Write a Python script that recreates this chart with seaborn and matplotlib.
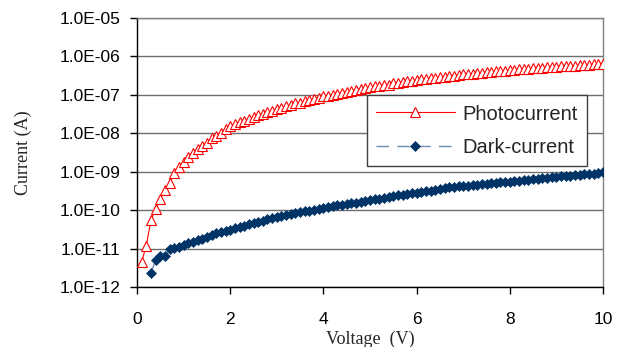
import matplotlib
matplotlib.use("Agg")
import matplotlib.pyplot as plt
import matplotlib.ticker as mticker
import seaborn as sns
import pandas as pd

# ---------------- data ----------------
photo_voltage = [0.1, 0.2, 0.3, 0.4, 0.5, 0.6, 0.7, 0.8, 0.9, 1.0,
                 1.1, 1.2, 1.3, 1.4, 1.5, 1.6, 1.7, 1.8, 1.9, 2.0,
                 2.1, 2.2, 2.3, 2.4, 2.5, 2.6, 2.7, 2.8, 2.9, 3.0,
                 3.1, 3.2, 3.3, 3.4, 3.5, 3.6, 3.7, 3.8, 3.9, 4.0,
                 4.1, 4.2, 4.3, 4.4, 4.5, 4.6, 4.7, 4.8, 4.9, 5.0,
                 5.1, 5.2, 5.3, 5.4, 5.5, 5.6, 5.7, 5.8, 5.9, 6.0,
                 6.1, 6.2, 6.3, 6.4, 6.5, 6.6, 6.7, 6.8, 6.9, 7.0,
                 7.1, 7.2, 7.3, 7.4, 7.5, 7.6, 7.7, 7.8, 7.9, 8.0,
                 8.1, 8.2, 8.3, 8.4, 8.5, 8.6, 8.7, 8.8, 8.9, 9.0,
                 9.1, 9.2, 9.3, 9.4, 9.5, 9.6, 9.7, 9.8, 9.9, 10.0]
photocurrent = [4.57e-12, 1.20e-11, 5.50e-11, 1.10e-10, 2.00e-10, 3.39e-10, 5.01e-10, 9.33e-10, 1.35e-9, 1.82e-9,
                2.45e-9, 3.16e-9, 3.89e-9, 4.68e-9, 5.75e-9, 7.41e-9, 8.71e-9, 1.02e-8, 1.32e-8, 1.58e-8,
                1.74e-8, 1.95e-8, 2.09e-8, 2.40e-8, 2.63e-8, 2.95e-8, 3.16e-8, 3.55e-8, 3.72e-8, 4.17e-8,
                4.57e-8, 5.01e-8, 5.37e-8, 6.03e-8, 6.31e-8, 6.92e-8, 7.24e-8, 7.94e-8, 8.32e-8, 9.12e-8,
                9.55e-8, 1.02e-7, 1.07e-7, 1.15e-7, 1.20e-7, 1.29e-7, 1.35e-7, 1.45e-7, 1.48e-7, 1.58e-7,
                1.66e-7, 1.74e-7, 1.82e-7, 1.86e-7, 2.00e-7, 2.04e-7, 2.19e-7, 2.24e-7, 2.34e-7, 2.40e-7,
                2.51e-7, 2.57e-7, 2.69e-7, 2.75e-7, 2.88e-7, 2.95e-7, 3.09e-7, 3.16e-7, 3.24e-7, 3.39e-7,
                3.47e-7, 3.55e-7, 3.63e-7, 3.80e-7, 3.89e-7, 3.98e-7, 4.07e-7, 4.17e-7, 4.27e-7, 4.37e-7,
                4.47e-7, 4.57e-7, 4.68e-7, 4.79e-7, 4.90e-7, 5.01e-7, 5.13e-7, 5.25e-7, 5.25e-7, 5.37e-7,
                5.50e-7, 5.62e-7, 5.75e-7, 5.75e-7, 5.89e-7, 6.03e-7, 6.03e-7, 6.17e-7, 6.17e-7, 6.46e-7]

dark_voltage = [0.3, 0.4, 0.5, 0.6, 0.7, 0.8, 0.9, 1.0,
                1.1, 1.2, 1.3, 1.4, 1.5, 1.6, 1.7, 1.8, 1.9, 2.0,
                2.1, 2.2, 2.3, 2.4, 2.5, 2.6, 2.7, 2.8, 2.9, 3.0,
                3.1, 3.2, 3.3, 3.4, 3.5, 3.6, 3.7, 3.8, 3.9, 4.0,
                4.1, 4.2, 4.3, 4.4, 4.5, 4.6, 4.7, 4.8, 4.9, 5.0,
                5.1, 5.2, 5.3, 5.4, 5.5, 5.6, 5.7, 5.8, 5.9, 6.0,
                6.1, 6.2, 6.3, 6.4, 6.5, 6.6, 6.7, 6.8, 6.9, 7.0,
                7.1, 7.2, 7.3, 7.4, 7.5, 7.6, 7.7, 7.8, 7.9, 8.0,
                8.1, 8.2, 8.3, 8.4, 8.5, 8.6, 8.7, 8.8, 8.9, 9.0,
                9.1, 9.2, 9.3, 9.4, 9.5, 9.6, 9.7, 9.8, 9.9, 10.0]
dark_current = [2.34e-12, 5.01e-12, 6.46e-12, 6.31e-12, 9.55e-12, 1.05e-11, 1.12e-11, 1.23e-11,
                1.38e-11, 1.51e-11, 1.66e-11, 1.82e-11, 2.04e-11, 2.29e-11, 2.51e-11, 2.69e-11, 2.88e-11, 3.09e-11,
                3.39e-11, 3.72e-11, 3.98e-11, 4.27e-11, 4.68e-11, 5.01e-11, 5.37e-11, 5.75e-11, 6.17e-11, 6.61e-11,
                7.08e-11, 7.41e-11, 7.94e-11, 8.32e-11, 8.91e-11, 9.33e-11, 9.77e-11, 1.02e-10, 1.10e-10, 1.15e-10,
                1.23e-10, 1.29e-10, 1.35e-10, 1.38e-10, 1.45e-10, 1.51e-10, 1.58e-10, 1.66e-10, 1.74e-10, 1.82e-10,
                1.91e-10, 2.00e-10, 2.09e-10, 2.19e-10, 2.34e-10, 2.45e-10, 2.51e-10, 2.63e-10, 2.75e-10, 2.82e-10,
                2.95e-10, 3.09e-10, 3.24e-10, 3.39e-10, 3.55e-10, 3.72e-10, 3.89e-10, 3.98e-10, 4.17e-10, 4.27e-10,
                4.37e-10, 4.47e-10, 4.57e-10, 4.68e-10, 4.79e-10, 5.01e-10, 5.13e-10, 5.25e-10, 5.37e-10, 5.50e-10,
                5.62e-10, 5.75e-10, 6.03e-10, 6.17e-10, 6.31e-10, 6.46e-10, 6.76e-10, 6.92e-10, 7.08e-10, 7.24e-10,
                7.59e-10, 7.76e-10, 7.94e-10, 8.13e-10, 8.32e-10, 8.51e-10, 8.71e-10, 8.91e-10, 9.33e-10, 9.55e-10]

series_labels = ["Photocurrent", "Dark-current"]
x_ticks = [0, 2, 4, 6, 8, 10]
y_ticks = [1e-12, 1e-11, 1e-10, 1e-9, 1e-8, 1e-7, 1e-6, 1e-5]
x_label = "Voltage  (V)"
y_label = "Current (A)"

# ---------------- figure ----------------
sns.set_theme(style="white")
plt.rcParams["font.family"] = ["Liberation Sans", "DejaVu Sans"]

fig = plt.figure(figsize=(6.21, 3.47), dpi=100)
ax = fig.add_axes([137 / 621, 60 / 347, 466 / 621, 269 / 347])

photo_df = pd.DataFrame({"V": photo_voltage, "I": photocurrent})
dark_df = pd.DataFrame({"V": dark_voltage, "I": dark_current})

sns.lineplot(data=photo_df, x="V", y="I", ax=ax, color="#ff0000", linewidth=0.8,
             marker="^", markersize=6.5, markerfacecolor="white",
             markeredgecolor="#ff0000", markeredgewidth=0.8,
             label=series_labels[0], zorder=3)
sns.lineplot(data=dark_df, x="V", y="I", ax=ax, color="#6c8cb0", linewidth=1.0,
             linestyle=(0, (9, 6)), marker="D", markersize=5.2,
             markerfacecolor="#003366", markeredgecolor="#003366", markeredgewidth=0.5,
             label=series_labels[1], zorder=3)

ax.set_yscale("log")
ax.set_xlim(0, 10)
ax.set_ylim(1e-12, 1e-5)
ax.xaxis.set_major_locator(mticker.FixedLocator(x_ticks))
ax.yaxis.set_major_locator(mticker.FixedLocator(y_ticks))
ax.yaxis.set_minor_locator(mticker.NullLocator())
ax.yaxis.set_major_formatter(mticker.FuncFormatter(lambda v, p: "{:.1E}".format(v)))
ax.xaxis.set_major_formatter(mticker.FuncFormatter(lambda v, p: "%d" % v))

ax.grid(axis="y", color="#6e6e6e", linewidth=1.0)
ax.grid(axis="x", visible=False)
ax.set_axisbelow(True)

for side in ["left", "bottom"]:
    ax.spines[side].set_color("black")
    ax.spines[side].set_linewidth(1.0)
for side in ["top", "right"]:
    ax.spines[side].set_color("#808080")
    ax.spines[side].set_linewidth(1.0)

ax.tick_params(axis="both", which="major", direction="out", length=5, width=1,
               color="black", labelsize=12.5, labelcolor="black",
               left=True, bottom=True)
ax.tick_params(axis="y", pad=7)
ax.tick_params(axis="x", pad=13)

ax.set_xlabel(x_label, family=["Liberation Serif"], fontsize=13, labelpad=3)
ax.set_ylabel(y_label, family=["Liberation Serif"], fontsize=13, labelpad=20)

leg = ax.legend(loc="upper left", bbox_to_anchor=(0.4936, 0.712), fontsize=14.5,
                frameon=True, fancybox=False, edgecolor="#404040",
                handlelength=3.9, handletextpad=0.4, labelspacing=0.72,
                borderpad=0.45, borderaxespad=0)
leg.get_frame().set_linewidth(1.0)
leg.get_frame().set_facecolor("white")
leg.get_frame().set_alpha(1)

fig.savefig("out.png", dpi=100)
